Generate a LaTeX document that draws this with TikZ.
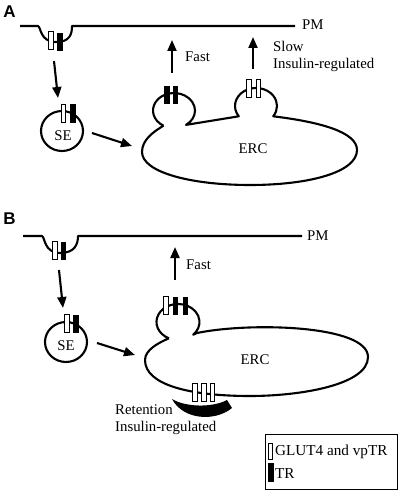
\documentclass[tikz,border=0pt]{standalone}
\usepackage{fontspec}
\setmainfont{Liberation Serif}
\newfontfamily\labfont{Liberation Sans}
\usetikzlibrary{arrows.meta}
\begin{document}
\begin{tikzpicture}[x=1pt,y=1pt,
  mem/.style={line width=2.1pt, line join=round},
  flow/.style={line width=2.1pt, -{Triangle[length=11pt,width=9pt]}},
  txt/.style={inner sep=0pt, font=\fontsize{14.8}{16}\selectfont},
  legtxt/.style={inner sep=0pt, font=\fontsize{15.2}{17}\selectfont},
  lbl/.style={inner sep=0pt, font=\labfont\bfseries\fontsize{17}{19}\selectfont},
  wb/.pic={\draw[line width=1pt, fill=white] (-2.3,-9) rectangle (2.3,9);},
  bb/.pic={\fill (-2.7,-9) rectangle (2.7,9);}]
\useasboundingbox (0,0) rectangle (400,-492);

% ================= Panel A =================
\node[lbl] (labA) at (9.5,-11.5) {A};
\draw[mem] (20,-26) -- (38,-26) .. controls (41,-27) and (40,-42) .. (56,-42)
  .. controls (70,-42) and (72,-34) .. (72,-26) -- (295,-26);
\node[txt, anchor=base west] (pmA) at (302,-29.5) {PM};
\pic at (50.8,-41) {wb};
\pic at (59.8,-42) {bb};

% sorting endosome A
\draw[mem] (62,-131) ellipse [x radius=21, y radius=20];
\node[txt] (seA) at (63,-136) {SE};
\pic at (63.5,-113.5) {wb};
\pic at (73,-113.5) {bb};

% ERC A
\draw[mem] (163.5,-125.7) arc[start angle=240, end angle=-55, x radius=21, y radius=17.5]
  -- (238.8,-116.3) arc[start angle=215, end angle=-35, x radius=21, y radius=18]
  .. controls (320,-122) and (357,-132) .. (357,-150)
  .. controls (357,-172) and (310,-185) .. (250,-185)
  .. controls (190,-185) and (142,-172) .. (142,-152)
  .. controls (142,-140) and (153,-132) .. (163.5,-125.7);
\node[txt] (ercA) at (253,-149) {ERC};
\pic at (167,-95) {bb};
\pic at (175.5,-95) {bb};
\pic at (249,-89) {wb};
\pic at (258.5,-89) {wb};

% arrows A
\coordinate (a1s) at (54,-61);   \coordinate (a1e) at (58,-98);
\coordinate (a2s) at (92,-133);  \coordinate (a2e) at (132,-146);
\coordinate (a3s) at (172,-73);  \coordinate (a3e) at (172,-40);
\coordinate (a4s) at (253,-69);  \coordinate (a4e) at (253,-37);
\draw[flow] (a1s) -- (a1e);
\draw[flow] (a2s) -- (a2e);
\draw[flow] (a3s) -- (a3e);
\draw[flow] (a4s) -- (a4e);
\node[txt, anchor=base west] (fastA) at (185,-61.5) {Fast};
\node[txt, anchor=base west] (slowA) at (273,-51.5) {Slow};
\node[txt, anchor=base west] (insA) at (273,-69) {Insulin-regulated};

% ================= Panel B =================
\node[lbl] (labB) at (9.5,-219) {B};
\draw[mem] (23,-236) -- (42,-236) .. controls (45,-237) and (44,-253) .. (60,-253)
  .. controls (75,-253) and (78,-244) .. (78,-236) -- (302,-236);
\node[txt, anchor=base west] (pmB) at (307,-240.5) {PM};
\pic at (55,-250.5) {wb};
\pic at (63.5,-251) {bb};

% sorting endosome B
\draw[mem] (66,-342) ellipse [x radius=21, y radius=20];
\node[txt] (seB) at (66,-346) {SE};
\pic at (67,-323.5) {wb};
\pic at (76,-323.5) {bb};

% ERC B
\draw[mem] (168.9,-338.3) arc[start angle=245, end angle=-45, x radius=21.5, y radius=18]
  -- (197,-333)
  .. controls (250,-322) and (368,-325) .. (368,-357)
  .. controls (368,-385) and (300,-396) .. (250,-396)
  .. controls (190,-396) and (145,-385) .. (145,-360)
  .. controls (145,-350) and (158,-343) .. (168.9,-338.3);
\node[txt] (ercB) at (255,-360) {ERC};
\pic at (166,-305.5) {wb};
\pic at (175.5,-305.5) {bb};
\pic at (185.5,-305.5) {bb};
\pic at (195,-392) {wb};
\pic at (204,-392) {wb};
\pic at (212.5,-392) {wb};

% retention crescent
\fill (172,-399) .. controls (185,-407) and (212,-408) .. (227,-400) -- (232,-408)
  .. controls (215,-422) and (183,-420) .. (172,-399) -- cycle;

% arrows B
\coordinate (b1s) at (59,-270);  \coordinate (b1e) at (63,-308);
\coordinate (b2s) at (97,-343);  \coordinate (b2e) at (135,-355);
\coordinate (b3s) at (175,-280); \coordinate (b3e) at (175,-247);
\draw[flow] (b1s) -- (b1e);
\draw[flow] (b2s) -- (b2e);
\draw[flow] (b3s) -- (b3e);
\node[txt, anchor=base west] (fastB) at (186,-269.5) {Fast};
\node[txt, anchor=base west] (retB) at (115,-414.5) {Retention};
\node[txt, anchor=base west] (insB) at (115,-431.5) {Insulin-regulated};

% legend
\draw[line width=0.9pt] (265,-434) rectangle (397,-489);
\draw[line width=1pt, fill=white] (268,-443) rectangle (272.4,-459);
\fill (268,-463) rectangle (273.5,-482);
\node[legtxt, anchor=base west] (legG) at (275,-455) {GLUT4 and vpTR};
\node[legtxt, anchor=base west] (legT) at (275,-478) {TR};
\end{tikzpicture}
\end{document}
